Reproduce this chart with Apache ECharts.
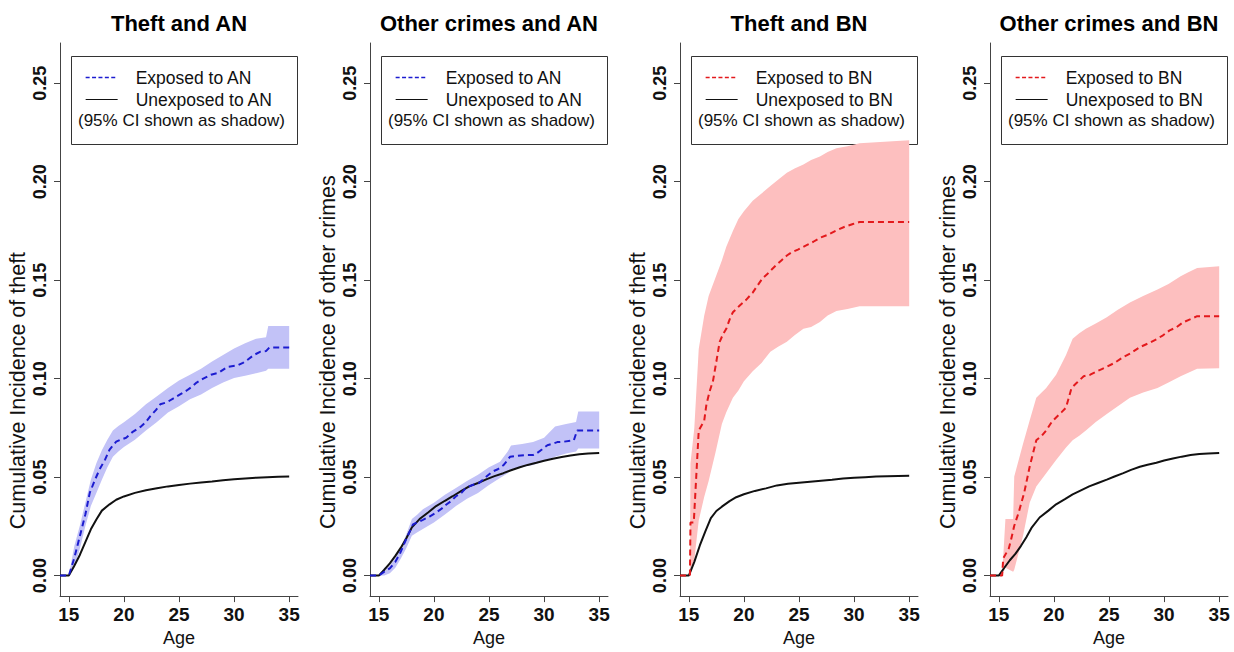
<!DOCTYPE html>
<html><head><meta charset="utf-8">
<script src="https://cdn.jsdelivr.net/npm/echarts@6/dist/echarts.min.js"></script>
<style>html,body{margin:0;padding:0;background:#fff}#c{width:1234px;height:652px}</style>
</head><body><div id="c"></div>
<script>
// ---------------- tick labels ----------------
const xTicks = [15, 20, 25, 30, 35];
const yTicks = [0, 0.05, 0.10, 0.15, 0.20, 0.25];

// ---------------- titles / labels ----------------
const panelTitles = ['Theft and AN', 'Other crimes and AN', 'Theft and BN', 'Other crimes and BN'];
const yTitles = ['Cumulative Incidence of theft', 'Cumulative Incidence of other crimes',
                 'Cumulative Incidence of theft', 'Cumulative Incidence of other crimes'];
const expNames = ['Exposed to AN', 'Exposed to AN', 'Exposed to BN', 'Exposed to BN'];
const unexpNames = ['Unexposed to AN', 'Unexposed to AN', 'Unexposed to BN', 'Unexposed to BN'];
const ciNote = '(95% CI shown as shadow)';

// ---------------- Panel 1: Theft and AN ----------------
const p1ExpAges = [14.2, 15.0, 15.5, 16.0, 16.5, 16.9, 17.4, 17.8, 18.3, 18.7, 19.3, 19.7, 20.2, 20.8, 21.5, 22.0, 22.4, 22.9, 23.3, 23.9, 24.5, 25.1, 25.7, 26.2, 26.6, 27.2, 27.9, 28.6, 29.4, 30.3, 30.8, 31.2, 31.8, 32.4, 32.9, 33.2, 35.0];
const p1ExpVals = [0, 0, 0.009, 0.020, 0.031, 0.042, 0.049, 0.054, 0.059, 0.064, 0.068, 0.069, 0.070, 0.073, 0.0755, 0.078, 0.081, 0.084, 0.087, 0.088, 0.090, 0.092, 0.094, 0.096, 0.098, 0.100, 0.102, 0.103, 0.106, 0.1067, 0.108, 0.1095, 0.112, 0.1137, 0.114, 0.1158, 0.1158];
const p1UnexpAges = [14.2, 15.0, 15.5, 16.0, 16.5, 17.0, 17.5, 18.0, 18.7, 19.3, 20.0, 21.0, 22.0, 23.0, 24.0, 25.0, 26.0, 27.0, 28.0, 29.0, 30.0, 31.0, 32.0, 33.0, 34.0, 35.0];
const p1UnexpVals = [0, 0, 0.005, 0.0105, 0.017, 0.0235, 0.0285, 0.033, 0.0362, 0.0385, 0.0402, 0.042, 0.0433, 0.0444, 0.0453, 0.046, 0.0467, 0.0473, 0.0478, 0.0484, 0.0489, 0.0493, 0.0497, 0.050, 0.0502, 0.0503];
const p1BandAges = [15.0, 15.5, 16.0, 16.5, 17.0, 17.5, 18.0, 18.5, 19.0, 19.5, 20.0, 21.0, 22.0, 23.0, 24.0, 25.0, 26.0, 27.0, 28.0, 29.0, 30.0, 31.0, 32.0, 32.9, 33.1, 35.0];
const p1BandLo = [0, 0.004, 0.0137, 0.025, 0.0353, 0.042, 0.0487, 0.055, 0.0603, 0.063, 0.0653, 0.069, 0.0737, 0.078, 0.0828, 0.086, 0.0895, 0.092, 0.0953, 0.098, 0.1003, 0.1015, 0.1028, 0.104, 0.105, 0.105];
const p1BandHi = [0, 0.015, 0.0253, 0.037, 0.0487, 0.057, 0.0637, 0.069, 0.0737, 0.076, 0.0778, 0.082, 0.087, 0.091, 0.0953, 0.099, 0.102, 0.105, 0.1087, 0.112, 0.1153, 0.118, 0.1203, 0.121, 0.1267, 0.1267];

// ---------------- Panel 2: Other crimes and AN ----------------
const p2ExpAges = [14.2, 15.0, 15.5, 16.0, 16.5, 16.9, 17.5, 18.1, 18.5, 19.0, 19.6, 20.2, 20.7, 21.1, 21.6, 22.0, 22.5, 22.9, 23.5, 24.1, 24.7, 25.3, 25.8, 26.3, 26.6, 26.9, 27.5, 28.4, 29.0, 29.3, 29.8, 30.3, 30.8, 31.2, 31.8, 32.7, 33.0, 35.0];
const p2ExpVals = [0, 0, 0.002, 0.0037, 0.007, 0.011, 0.0187, 0.026, 0.027, 0.0283, 0.030, 0.032, 0.034, 0.036, 0.038, 0.0403, 0.042, 0.0445, 0.046, 0.047, 0.050, 0.0528, 0.054, 0.056, 0.058, 0.0603, 0.0608, 0.0612, 0.0612, 0.062, 0.064, 0.0662, 0.067, 0.0678, 0.068, 0.0687, 0.0737, 0.0737];
const p2UnexpAges = [14.2, 15.0, 15.5, 16.0, 16.5, 17.0, 17.5, 18.0, 18.7, 19.5, 20.2, 21.0, 21.7, 22.5, 23.2, 24.0, 24.8, 25.5, 26.3, 27.0, 27.8, 28.5, 29.3, 30.0, 30.8, 31.6, 32.4, 33.2, 34.0, 35.0];
const p2UnexpVals = [0, 0, 0.003, 0.0062, 0.010, 0.0142, 0.019, 0.0245, 0.0287, 0.0322, 0.0353, 0.038, 0.0403, 0.043, 0.0453, 0.047, 0.049, 0.0505, 0.052, 0.0535, 0.055, 0.0562, 0.0573, 0.0583, 0.0593, 0.0602, 0.061, 0.0616, 0.062, 0.0623];
const p2BandAges = [15.0, 15.5, 16.0, 16.5, 17.0, 17.5, 18.0, 18.5, 19.0, 20.0, 21.0, 22.0, 23.0, 24.0, 25.0, 26.0, 26.7, 27.0, 28.0, 29.0, 30.0, 31.0, 32.0, 32.9, 33.1, 35.0];
const p2BandLo = [0, 0, 0.0012, 0.004, 0.0087, 0.014, 0.0203, 0.022, 0.0237, 0.027, 0.031, 0.0353, 0.039, 0.042, 0.046, 0.0495, 0.052, 0.0537, 0.055, 0.0562, 0.058, 0.0603, 0.062, 0.063, 0.0645, 0.0645];
const p2BandHi = [0, 0.004, 0.0053, 0.009, 0.0145, 0.021, 0.0287, 0.031, 0.0337, 0.037, 0.041, 0.0445, 0.048, 0.0512, 0.055, 0.0578, 0.063, 0.066, 0.0668, 0.0678, 0.070, 0.0757, 0.077, 0.078, 0.0833, 0.0833];

// ---------------- Panel 3: Theft and BN ----------------
const p3ExpAges = [14.2, 15.1, 15.15, 15.45, 15.9, 16.4, 16.6, 16.9, 17.2, 17.5, 17.8, 18.1, 18.4, 18.7, 19.0, 19.6, 20.2, 20.8, 21.2, 21.7, 22.1, 22.5, 23.0, 23.4, 23.9, 24.3, 24.9, 25.6, 26.3, 26.9, 27.6, 28.4, 29.1, 29.9, 30.5, 35.0];
const p3ExpVals = [0, 0, 0.027, 0.027, 0.0737, 0.0787, 0.087, 0.0937, 0.099, 0.1087, 0.1187, 0.1225, 0.1253, 0.130, 0.1337, 0.137, 0.140, 0.1437, 0.147, 0.151, 0.153, 0.1553, 0.158, 0.160, 0.1625, 0.164, 0.1655, 0.1675, 0.1695, 0.1715, 0.173, 0.1753, 0.177, 0.1785, 0.1795, 0.1795];
const p3UnexpAges = [14.2, 15.0, 15.5, 16.0, 16.5, 17.0, 17.5, 18.0, 18.7, 19.3, 20.0, 21.0, 22.0, 23.0, 24.0, 25.0, 26.0, 27.0, 28.0, 29.0, 30.0, 31.0, 32.0, 33.0, 34.0, 35.0];
const p3UnexpVals = [0, 0, 0.007, 0.0153, 0.0225, 0.0292, 0.0328, 0.035, 0.0378, 0.0398, 0.0413, 0.043, 0.0443, 0.0458, 0.0466, 0.0472, 0.0477, 0.0482, 0.0487, 0.0493, 0.0497, 0.050, 0.0503, 0.0505, 0.0506, 0.0507];
const p3BandAges = [15.1, 15.15, 15.5, 15.9, 16.4, 16.8, 17.4, 18.0, 18.4, 19.0, 19.5, 20.0, 20.8, 21.6, 22.4, 23.1, 23.9, 24.6, 25.4, 26.1, 26.9, 27.6, 28.4, 29.4, 30.5, 35.0];
const p3BandLo = [0, 0, 0.008, 0.028, 0.040, 0.048, 0.062, 0.077, 0.083, 0.0903, 0.094, 0.0987, 0.1037, 0.108, 0.1137, 0.1162, 0.1187, 0.122, 0.1253, 0.1262, 0.1287, 0.132, 0.1343, 0.1353, 0.1367, 0.1367];
const p3BandHi = [0, 0.057, 0.075, 0.115, 0.132, 0.142, 0.151, 0.160, 0.167, 0.175, 0.181, 0.185, 0.1903, 0.194, 0.1978, 0.201, 0.2045, 0.2067, 0.2087, 0.211, 0.2128, 0.215, 0.217, 0.218, 0.2195, 0.221];

// ---------------- Panel 4: Other crimes and BN ----------------
const p4ExpAges = [14.2, 15.3, 15.4, 15.9, 16.1, 16.4, 16.8, 17.3, 17.8, 18.4, 18.9, 19.3, 19.8, 20.2, 20.7, 21.1, 21.6, 22.1, 22.7, 23.3, 23.9, 24.4, 24.8, 25.5, 26.3, 27.0, 27.8, 28.6, 29.3, 29.9, 30.5, 31.1, 31.7, 32.3, 33.0, 35.0];
const p4ExpVals = [0, 0, 0.0087, 0.0137, 0.018, 0.0253, 0.032, 0.042, 0.0553, 0.0687, 0.071, 0.0737, 0.078, 0.0803, 0.083, 0.0853, 0.0953, 0.098, 0.1012, 0.102, 0.1037, 0.105, 0.106, 0.108, 0.111, 0.113, 0.116, 0.118, 0.120, 0.122, 0.1245, 0.126, 0.1285, 0.130, 0.1317, 0.1317];
const p4UnexpAges = [14.2, 15.0, 15.5, 16.0, 16.5, 17.0, 17.5, 18.0, 18.7, 19.5, 20.2, 21.0, 21.7, 22.5, 23.2, 24.0, 24.8, 25.5, 26.3, 27.0, 27.8, 28.5, 29.3, 30.0, 30.8, 31.6, 32.4, 33.2, 34.0, 35.0];
const p4UnexpVals = [0, 0, 0.004, 0.0078, 0.011, 0.015, 0.0195, 0.0245, 0.0295, 0.033, 0.0362, 0.0388, 0.0412, 0.0434, 0.0453, 0.047, 0.0487, 0.0503, 0.052, 0.0537, 0.0553, 0.0563, 0.0573, 0.0584, 0.0595, 0.0604, 0.0612, 0.0617, 0.062, 0.0623];
const p4BandAges = [15.3, 15.6, 16.3, 16.4, 17.2, 17.8, 18.4, 19.3, 20.2, 21.1, 21.7, 22.3, 22.9, 23.8, 24.8, 25.8, 26.9, 28.1, 29.4, 30.4, 31.5, 32.2, 33.0, 35.0];
const p4BandLo = [0, 0.004, 0.002, 0.003, 0.0203, 0.037, 0.0453, 0.052, 0.0587, 0.065, 0.0687, 0.071, 0.0737, 0.078, 0.082, 0.086, 0.0903, 0.093, 0.0953, 0.098, 0.1012, 0.103, 0.105, 0.1053];
const p4BandHi = [0, 0.0287, 0.0287, 0.0503, 0.067, 0.0787, 0.0903, 0.0953, 0.102, 0.112, 0.1203, 0.123, 0.1253, 0.128, 0.1312, 0.135, 0.1387, 0.142, 0.1453, 0.148, 0.152, 0.154, 0.1562, 0.157];

// ---------------- styling ----------------
const FONT = "'Liberation Sans', Arial, Helvetica, sans-serif";
const BLUE = '#1c1cd0', BLUE_BAND = '#c2c2f7';
const RED = '#e3191c', RED_BAND = '#fdbfbf';
const BLACK = '#111';
const AXIS_COLOR = '#444';
const GRID_LEFTS = [60, 370, 680, 990];
const GRID_TOP = 43, GRID_W = 238, GRID_H = 561;
const X_MIN = 14.2, X_MAX = 35.8, Y_MIN = -0.0104, Y_MAX = 0.2704;
const Y_NAME_PAD = [142, 65, 142, 65];

const panels = [
  {exp: [p1ExpAges, p1ExpVals], unexp: [p1UnexpAges, p1UnexpVals], band: [p1BandAges, p1BandLo, p1BandHi], col: BLUE, bandCol: BLUE_BAND},
  {exp: [p2ExpAges, p2ExpVals], unexp: [p2UnexpAges, p2UnexpVals], band: [p2BandAges, p2BandLo, p2BandHi], col: BLUE, bandCol: BLUE_BAND},
  {exp: [p3ExpAges, p3ExpVals], unexp: [p3UnexpAges, p3UnexpVals], band: [p3BandAges, p3BandLo, p3BandHi], col: RED, bandCol: RED_BAND},
  {exp: [p4ExpAges, p4ExpVals], unexp: [p4UnexpAges, p4UnexpVals], band: [p4BandAges, p4BandLo, p4BandHi], col: RED, bandCol: RED_BAND}
];

const pairs = (xs, ys) => xs.map((x, i) => [x, ys[i]]);

function bandRenderer(ages, lo, hi, color) {
  return function (params, api) {
    if (params.dataIndex !== 0) return null;
    const top = [], bot = [];
    for (let i = 0; i < ages.length; i++) {
      top.push(api.coord([ages[i], hi[i]]));
      bot.push(api.coord([ages[i], lo[i]]));
    }
    return {type: 'polygon', shape: {points: top.concat(bot.reverse())}, style: {fill: color, stroke: null}};
  };
}

const grid = [], xAxis = [], yAxis = [], series = [], title = [], legend = [], graphic = [];
const hiddenSymbol = {opacity: 0, borderWidth: 0};

panels.forEach((p, i) => {
  const L = GRID_LEFTS[i];
  grid.push({left: L, top: GRID_TOP, width: GRID_W, height: GRID_H, containLabel: false});
  xAxis.push({
    type: 'value', gridIndex: i, min: X_MIN, max: X_MAX,
    name: 'Age', nameLocation: 'middle', nameGap: 29,
    nameTextStyle: {fontFamily: FONT, fontSize: 18, color: BLACK},
    splitLine: {show: false},
    axisLine: {show: true, onZero: false, lineStyle: {color: AXIS_COLOR, width: 1}},
    axisTick: {show: true, inside: false, length: 6, customValues: xTicks, lineStyle: {color: AXIS_COLOR}},
    axisLabel: {customValues: xTicks, margin: 9, fontFamily: FONT, fontSize: 19, fontWeight: 'bold', color: BLACK}
  });
  yAxis.push({
    type: 'value', gridIndex: i, min: Y_MIN, max: Y_MAX,
    name: yTitles[i], nameLocation: 'middle', nameGap: 31, nameRotate: 90,
    nameTextStyle: {fontFamily: FONT, fontSize: 21.5, color: BLACK, padding: [0, Y_NAME_PAD[i], 0, 0]},
    splitLine: {show: false},
    axisLine: {show: true, onZero: false, lineStyle: {color: AXIS_COLOR, width: 1}},
    axisTick: {show: true, inside: false, length: 6, customValues: yTicks, lineStyle: {color: AXIS_COLOR}},
    axisLabel: {customValues: yTicks, rotate: 90, margin: 11, fontFamily: FONT, fontSize: 18, fontWeight: 'bold', color: BLACK,
                formatter: v => v.toFixed(2)}
  });
  const [bA, bL, bH] = p.band;
  series.push({
    type: 'custom', name: 'CI ' + panelTitles[i], xAxisIndex: i, yAxisIndex: i, z: 1, silent: true,
    data: bA.map((a, k) => [a, bL[k], bH[k]]),
    encode: {x: 0, y: [1, 2]},
    renderItem: bandRenderer(bA, bL, bH, p.bandCol)
  });
  series.push({
    type: 'line', name: unexpNames[i], xAxisIndex: i, yAxisIndex: i, z: 2,
    data: pairs(p.unexp[0], p.unexp[1]), symbol: 'none', smooth: false,
    lineStyle: {color: BLACK, width: 2}, itemStyle: {color: BLACK}
  });
  series.push({
    type: 'line', name: expNames[i], xAxisIndex: i, yAxisIndex: i, z: 3,
    data: pairs(p.exp[0], p.exp[1]), symbol: 'none', smooth: false,
    lineStyle: {color: p.col, width: 2, type: [6, 4]}, itemStyle: {color: p.col}
  });
  title.push({
    text: panelTitles[i], left: L + GRID_W / 2, top: 12, textAlign: 'center', padding: 0,
    textStyle: {fontFamily: FONT, fontSize: 22, fontWeight: 'bold', color: '#000'}
  });
  legend.push({
    orient: 'vertical', left: L + 25, top: 68.5, padding: 0, itemGap: 4,
    itemWidth: 32, itemHeight: 14, selectedMode: false,
    itemStyle: hiddenSymbol,
    data: [
      {name: expNames[i], lineStyle: {color: p.col, width: 1.3, type: [4, 2.4]}, itemStyle: hiddenSymbol},
      {name: unexpNames[i], lineStyle: {color: BLACK, width: 1.2, type: 'solid'}, itemStyle: hiddenSymbol}
    ],
    textStyle: {fontFamily: FONT, fontSize: 17.5, color: BLACK, padding: [0, 0, 0, 13]}
  });
  graphic.push({
    type: 'rect', left: L + 9, top: 54, silent: true,
    shape: {width: 226, height: 88}, style: {fill: 'none', stroke: '#333', lineWidth: 1}
  });
  graphic.push({
    type: 'text', left: L + 18, top: 112, silent: true,
    style: {text: ciNote, font: '17px ' + FONT, fill: BLACK}
  });
});

const chart = echarts.init(document.getElementById('c'), null, {renderer: 'svg'});
chart.setOption({
  backgroundColor: '#fff', animation: false,
  textStyle: {fontFamily: FONT},
  title, legend, grid, xAxis, yAxis, series, graphic
});
</script></body></html>
